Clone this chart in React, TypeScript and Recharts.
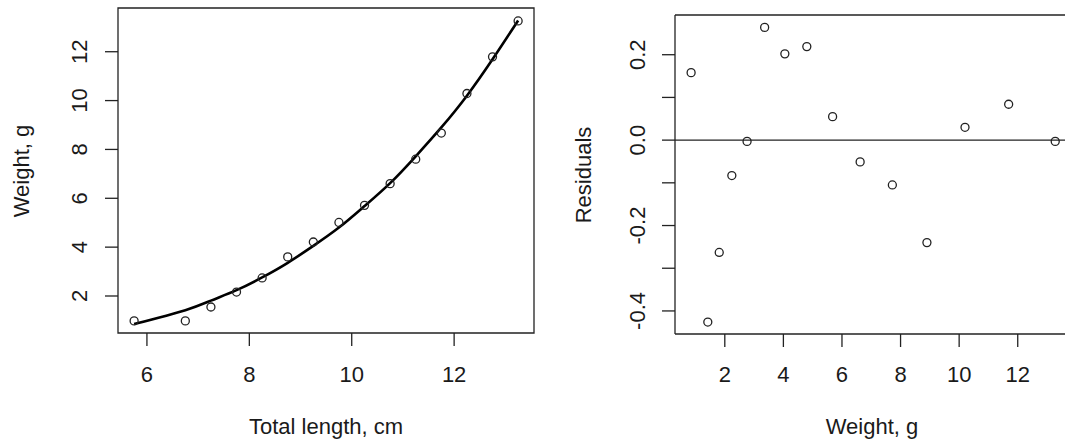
import React from 'react';
import { ComposedChart, Scatter, Line, XAxis, YAxis, ReferenceArea, ReferenceLine } from 'recharts';

const totalLength = [5.75, 6.75, 7.25, 7.75, 8.25, 8.75, 9.25, 9.75, 10.25, 10.75, 11.25, 11.75, 12.25, 12.75, 13.25];
const observedWeight = [0.98, 0.98, 1.55, 2.16, 2.74, 3.6, 4.21, 5.01, 5.71, 6.6, 7.6, 8.67, 10.29, 11.79, 13.26];
const fittedWeight = [0.85, 1.42, 1.81, 2.24, 2.76, 3.36, 4.05, 4.8, 5.68, 6.62, 7.72, 8.9, 10.2, 11.69, 13.28];
const residuals = [0.158, -0.426, -0.263, -0.083, -0.003, 0.264, 0.202, 0.219, 0.055, -0.051, -0.105, -0.24, 0.03, 0.084, -0.003];

const lengthTicks = [6, 8, 10, 12];
const weightTicks = [2, 4, 6, 8, 10, 12];
const residTicks = [-0.4, -0.3, -0.2, -0.1, 0, 0.1, 0.2];
const residLabels = ['-0.4', '-0.2', '0.0', '0.2'];

const leftData = totalLength.map((x, i) => ({ x, w: observedWeight[i], fit: fittedWeight[i] }));
const rightData = fittedWeight.map((x, i) => ({ x, r: residuals[i] }));

const FONT = "'Liberation Sans', Arial, sans-serif";
const FS = 22;
const TXT = '#1a1a1a';
const LINE = '#222';
const LW = 1.3;

const leftX: [number, number] = [5.435, 13.56];
const leftY: [number, number] = [0.485, 13.79];
const rightX: [number, number] = [0.3, 13.75];
const rightY: [number, number] = [-0.454, 0.293];

const makeXTick = (baseline: number) => (p: any) => (
  <text x={p.x} y={baseline} textAnchor="middle" fontFamily={FONT} fontSize={FS} fill={TXT}>
    {String(p.payload.value)}
  </text>
);

const makeYTick = (bx: number, fmt: (v: number) => string | null) => (p: any) => {
  const label = fmt(p.payload.value);
  if (label === null) return <g />;
  return (
    <text x={bx} y={p.y} textAnchor="middle" transform={`rotate(-90 ${bx} ${p.y})`} fontFamily={FONT} fontSize={FS} fill={TXT}>
      {label}
    </text>
  );
};

const residFmt = (v: number) => {
  const s = (Math.abs(v) < 1e-9 ? 0 : v).toFixed(1);
  return residLabels.includes(s) ? s : null;
};

const circleShape = (p: any) => (
  <circle cx={p.cx} cy={p.cy} r={4} fill="none" stroke={LINE} strokeWidth={LW} />
);

export default function App() {
  return (
    <div style={{ position: 'fixed', left: 0, top: 0, width: 1065, height: 445, overflow: 'hidden', background: '#fff' }}>
      <div style={{ position: 'absolute', left: 0, top: 0, width: 540, height: 445 }}>
        <ComposedChart width={540} height={445} data={leftData} margin={{ top: 8, right: 6, bottom: 0, left: 0 }}>
          <XAxis
            dataKey="x"
            type="number"
            domain={leftX}
            allowDataOverflow
            ticks={lengthTicks}
            interval={0}
            height={112}
            tickSize={13}
            axisLine={false}
            tickLine={{ stroke: LINE, strokeWidth: LW }}
            tick={makeXTick(381.5)}
          />
          <YAxis
            type="number"
            domain={leftY}
            allowDataOverflow
            ticks={weightTicks}
            interval={0}
            width={118}
            tickSize={13}
            axisLine={false}
            tickLine={{ stroke: LINE, strokeWidth: LW }}
            tick={makeYTick(87, (v) => String(v))}
          />
          <ReferenceArea x1={leftX[0]} x2={leftX[1]} y1={leftY[0]} y2={leftY[1]} fill="none" fillOpacity={0} stroke={LINE} strokeWidth={LW} ifOverflow="visible" />
          <Line dataKey="fit" type="natural" stroke="#000" strokeWidth={2.6} dot={false} activeDot={false} isAnimationActive={false} />
          <Scatter dataKey="w" shape={circleShape} isAnimationActive={false} />
        </ComposedChart>
      </div>
      <div style={{ position: 'absolute', left: 540, top: 0, width: 535, height: 445 }}>
        <ComposedChart width={535} height={445} data={rightData} margin={{ top: 15, right: 6, bottom: 0, left: 0 }}>
          <XAxis
            dataKey="x"
            type="number"
            domain={rightX}
            allowDataOverflow
            ticks={weightTicks}
            interval={0}
            height={111}
            tickSize={13}
            axisLine={false}
            tickLine={{ stroke: LINE, strokeWidth: LW }}
            tick={makeXTick(381.5)}
          />
          <YAxis
            type="number"
            domain={rightY}
            allowDataOverflow
            ticks={residTicks}
            interval={0}
            width={135}
            tickSize={13}
            axisLine={false}
            tickLine={{ stroke: LINE, strokeWidth: LW }}
            tick={makeYTick(105, residFmt)}
          />
          <ReferenceLine y={rightY[1]} stroke={LINE} strokeWidth={LW} ifOverflow="visible" />
          <ReferenceLine y={rightY[0]} stroke={LINE} strokeWidth={LW} ifOverflow="visible" />
          <ReferenceLine x={rightX[0]} stroke={LINE} strokeWidth={LW} ifOverflow="visible" />
          <ReferenceLine y={0} stroke={LINE} strokeWidth={LW} />
          <Scatter dataKey="r" shape={circleShape} isAnimationActive={false} />
        </ComposedChart>
      </div>
      <svg width={1065} height={445} style={{ position: 'absolute', left: 0, top: 0, pointerEvents: 'none' }}>
        <text x={326} y={434} textAnchor="middle" fontFamily={FONT} fontSize={FS} fill={TXT}>Total length, cm</text>
        <text x={872} y={434} textAnchor="middle" fontFamily={FONT} fontSize={FS} fill={TXT}>Weight, g</text>
        <text x={29} y={171} textAnchor="middle" transform="rotate(-90 29 171)" fontFamily={FONT} fontSize={FS} fill={TXT}>Weight, g</text>
        <text x={591} y={175} textAnchor="middle" transform="rotate(-90 591 175)" fontFamily={FONT} fontSize={FS} fill={TXT}>Residuals</text>
      </svg>
    </div>
  );
}
